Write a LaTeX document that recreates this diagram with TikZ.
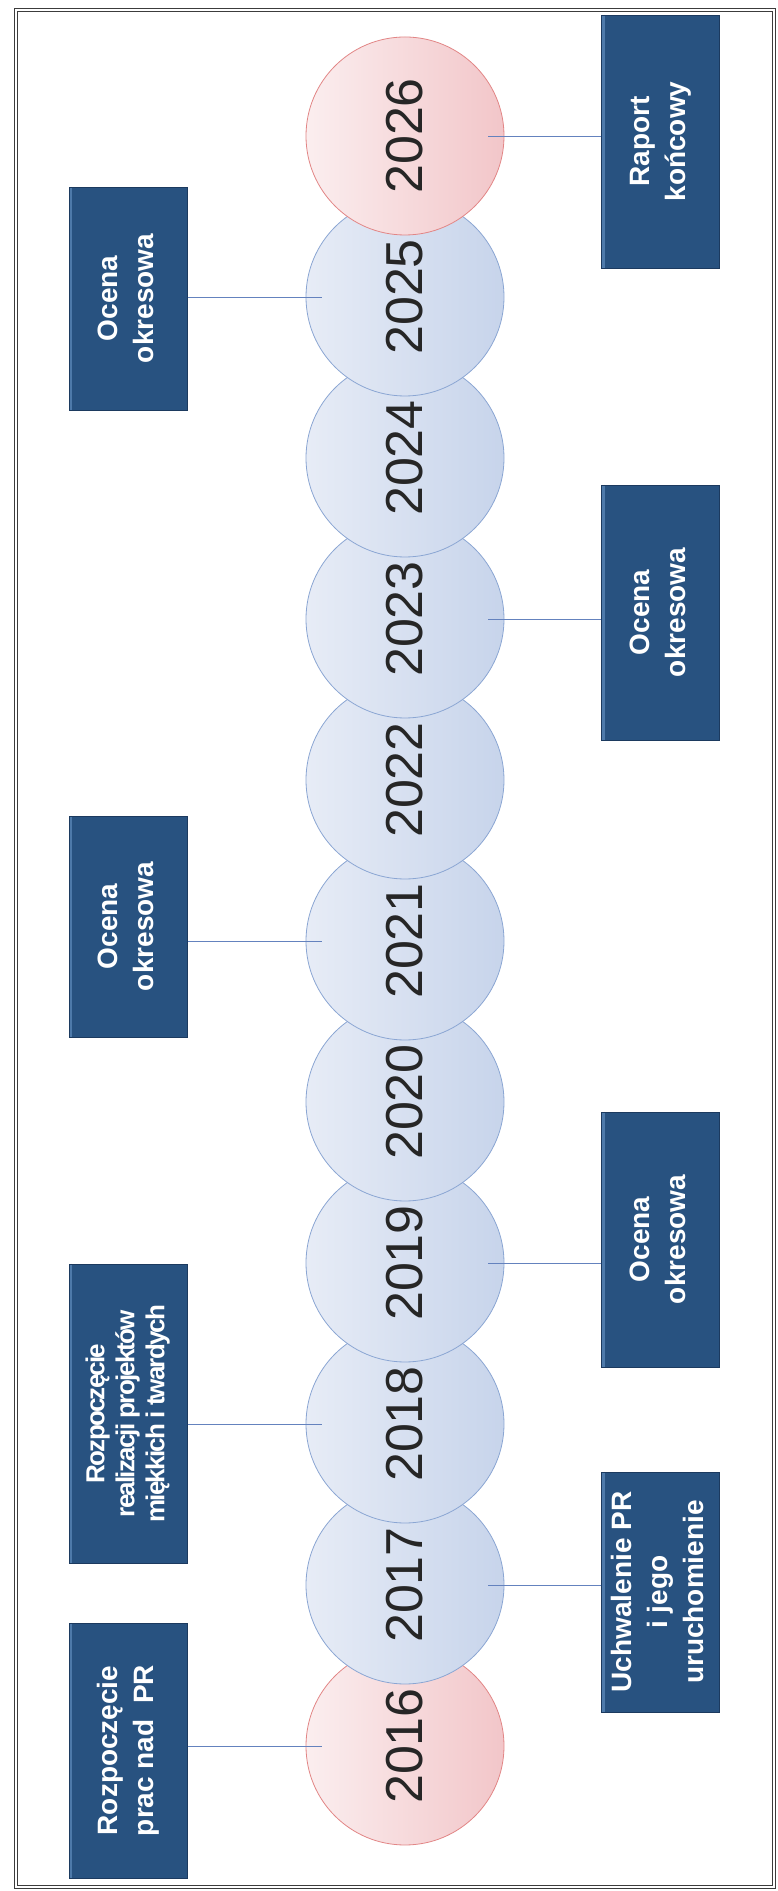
\documentclass[tikz,border=0pt]{standalone}
\usepackage{fontspec}
\setmainfont{Liberation Sans}
\usepackage{xcolor}
\usetikzlibrary{positioning}

\definecolor{boxblue}{RGB}{40,82,128}
\definecolor{boxedge}{RGB}{28,58,95}
\definecolor{boxlight}{RGB}{78,122,170}
\definecolor{ringblue}{RGB}{139,166,211}
\definecolor{ringred}{RGB}{226,134,134}
\definecolor{blueA}{RGB}{231,236,246}
\definecolor{blueB}{RGB}{199,212,235}
\definecolor{pinkA}{RGB}{251,238,239}
\definecolor{pinkB}{RGB}{242,198,201}
\definecolor{linkblue}{RGB}{100,130,190}
\definecolor{framegray}{RGB}{60,60,60}

\newcommand{\yr}[1]{\rotatebox{90}{#1}}
\newcommand{\evtext}[1]{\rotatebox{90}{\begin{tabular}{@{}c@{}}#1\end{tabular}}}

\begin{document}
\begin{tikzpicture}[x=1pt, y=1pt, node distance=161pt,
    year/.style={circle, draw=ringblue, line width=0.8pt, left color=blueA, right color=blueB,
      minimum size=198pt, inner sep=0pt, text=black!85, font=\fontsize{52}{60}\selectfont},
    endyear/.style={year, draw=ringred, left color=pinkA, right color=pinkB},
    event/.style={rectangle, fill=boxblue, draw=boxedge, line width=0.6pt, minimum width=118pt,
      inner sep=0pt, text=white, font=\bfseries\fontsize{28}{36}\selectfont,
      path picture={\draw[boxlight, line width=3pt] ([xshift=1.5pt]path picture bounding box.north west)
        -- ([xshift=1.5pt]path picture bounding box.south west);}},
    link/.style={draw=linkblue, line width=0.8pt}]

	\useasboundingbox (0,0) rectangle (778,1891);
	\fill[white] (0,0) rectangle (778,1891);
	\draw[framegray, double, double distance=2pt, line width=1pt] (16,3.5) rectangle (774,1880.5);

	% the years
	\node[endyear] (y16) at (405,145) {\yr{2016}};
	\node[year] (y17)[above of = y16] {\yr{2017}};
	\node[year] (y18)[above of = y17] {\yr{2018}};
	\node[year] (y19)[above of = y18] {\yr{2019}};
	\node[year] (y20)[above of = y19] {\yr{2020}};
	\node[year] (y21)[above of = y20] {\yr{2021}};
	\node[year] (y22)[above of = y21] {\yr{2022}};
	\node[year] (y23)[above of = y22] {\yr{2023}};
	\node[year] (y24)[above of = y23] {\yr{2024}};
	\node[year] (y25)[above of = y24] {\yr{2025}};
	\node[endyear] (y26)[above of = y25] {\yr{2026}};

	% events on the left
	\node[event, minimum height=255pt] (b16)[left=118pt of y16, yshift=-4.5pt] {\evtext{Rozpoczęcie\\prac nad\ \ PR}};
	\node[event, minimum height=299pt, font=\bfseries\fontsize{26}{30}\selectfont\addfontfeature{LetterSpace=-7}] (b18)[left=118pt of y18, yshift=10.5pt] {\evtext{Rozpoczęcie\\realizacji projektów\\miękkich i twardych}};
	\node[event, minimum height=221pt] (b21)[left=118pt of y21, yshift=14.5pt] {\evtext{Ocena\\okresowa}};
	\node[event, minimum height=223pt] (b25)[left=118pt of y25, yshift=-1.5pt] {\evtext{Ocena\\okresowa}};

	% events on the right
	\node[event, minimum height=240pt] (b17)[right=97pt of y17, yshift=-7pt] {\evtext{Uchwalenie PR\\i jego\\uruchomienie}};
	\node[event, minimum height=255pt] (b19)[right=97pt of y19, yshift=23.5pt] {\evtext{Ocena\\okresowa}};
	\node[event, minimum height=255pt] (b23)[right=97pt of y23, yshift=6.5pt] {\evtext{Ocena\\okresowa}};
	\node[event, minimum height=253pt] (b26)[right=97pt of y26, yshift=-5.5pt] {\evtext{Raport\\końcowy}};

	\path[link]
		(b16.east |- y16) edge ([xshift=16pt]y16.west)
		(b18.east |- y18) edge ([xshift=16pt]y18.west)
		(b21.east |- y21) edge ([xshift=16pt]y21.west)
		(b25.east |- y25) edge ([xshift=16pt]y25.west)

		(b17.west |- y17) edge ([xshift=-16pt]y17.east)
		(b19.west |- y19) edge ([xshift=-16pt]y19.east)
		(b23.west |- y23) edge ([xshift=-16pt]y23.east)
		(b26.west |- y26) edge ([xshift=-16pt]y26.east)
	;
\end{tikzpicture}
\end{document}
